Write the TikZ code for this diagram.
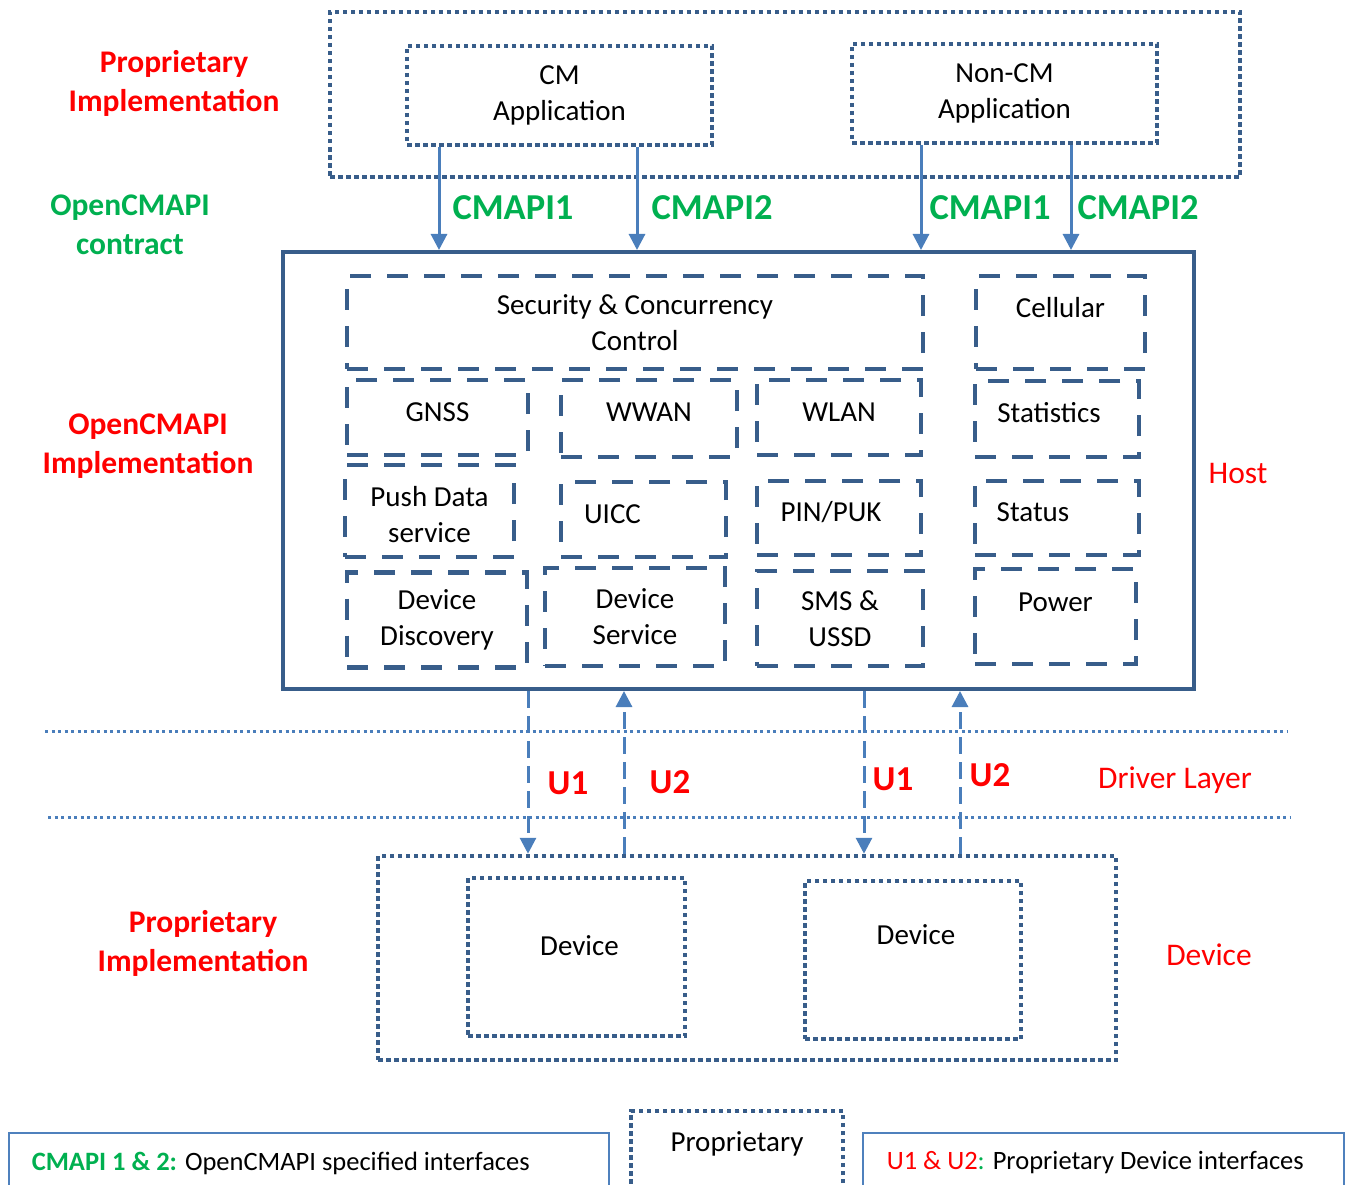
\documentclass[tikz,border=0pt]{standalone}
\usepackage{fontspec}
\setmainfont{Carlito}
\usetikzlibrary{arrows.meta,positioning}
\definecolor{boxblue}{RGB}{56,93,138}
\definecolor{arrowblue}{RGB}{74,126,187}
\definecolor{legblue}{RGB}{79,129,189}
\definecolor{apigreen}{RGB}{0,176,80}
\definecolor{propred}{RGB}{255,0,0}
\newcommand{\compfont}{\fontsize{29}{36}\selectfont}
\newcommand{\sidefont}{\bfseries\fontsize{31.5}{39}\selectfont}
\newcommand{\legfont}{\fontsize{26.5}{32}\selectfont}

\begin{document}
\begin{tikzpicture}[x=1pt,y=-1pt,
  dotbox/.style={rectangle, draw=boxblue, line width=4.5pt, dash pattern=on 4.5pt off 3.5pt, inner sep=0pt, font=\compfont, align=center},
  dashbox/.style={rectangle, draw=boxblue, line width=4.5pt, dash pattern=on 21pt off 16pt, inner sep=0pt, font=\compfont, align=center},
  boxlabel/.style={font=\compfont, align=center},
  apiarrow/.style={draw=arrowblue, line width=3pt, -{Triangle[width=16pt,length=16pt]}},
  uarrow/.style={draw=arrowblue, line width=3pt, dash pattern=on 17pt off 8pt, -{Triangle[width=16pt,length=16pt]}},
  apilabel/.style={text=apigreen, font=\bfseries\fontsize{36.5}{40}\selectfont},
  ulabel/.style={text=propred, font=\bfseries\fontsize{35}{40}\selectfont},
  sidelabel/.style={font=\sidefont, align=center},
  layerlabel/.style={text=propred, font=\fontsize{31.5}{38}\selectfont}]
\useasboundingbox (0,0) rectangle (1347,1185);

%Applications
\node[dotbox, minimum width=910pt, minimum height=165pt] (apps) at (785,94.5) {};
\node[dotbox, minimum width=305pt, minimum height=99pt] (cmapp) at (559.5,95.5) {CM\\Application};
\node[dotbox, minimum width=305pt, minimum height=99pt] (noncm) at (1004.5,93.5) {Non-CM\\Application};

%Host
\node[rectangle, draw=boxblue, line width=4pt, minimum width=911pt, minimum height=437pt] (host) at (738.5,470.5) {};
\node[dashbox, minimum width=576pt, minimum height=93pt] (sec) at (635,322.5) {Security \& Concurrency\\Control};
\node[dashbox, minimum width=169pt, minimum height=93pt, label={[boxlabel, yshift=15pt]center:Cellular}] (cell) at (1060.5,322.5) {};
\node[dashbox, minimum width=181pt, minimum height=75pt, label={[boxlabel, yshift=5pt]center:GNSS}] (gnss) at (437.5,417.5) {};
\node[dashbox, minimum width=176pt, minimum height=77pt, label={[boxlabel, yshift=6pt]center:WWAN}] (wwan) at (649,418.5) {};
\node[dashbox, minimum width=164pt, minimum height=75pt, label={[boxlabel, yshift=5pt]center:WLAN}] (wlan) at (839,417.5) {};
\node[dashbox, minimum width=164pt, minimum height=76pt, label={[boxlabel, xshift=-8pt, yshift=6pt]center:Statistics}] (stat) at (1057,419) {};
\node[dashbox, minimum width=169pt, minimum height=92pt, label={[boxlabel, yshift=-4pt]center:Push Data\\service}] (push) at (429.5,511) {};
\node[dashbox, minimum width=165pt, minimum height=75pt, label={[boxlabel, xshift=-31pt, yshift=5pt]center:UICC}] (uicc) at (643.5,519.5) {};
\node[dashbox, minimum width=164pt, minimum height=74pt, label={[boxlabel, xshift=-8pt, yshift=6pt]center:PIN/PUK}] (pin) at (839,518) {};
\node[dashbox, minimum width=164pt, minimum height=74pt, label={[boxlabel, xshift=-24pt, yshift=6pt]center:Status}] (status) at (1057,518) {};
\node[dashbox, minimum width=180pt, minimum height=95pt] (disc) at (437,620) {Device\\Discovery};
\node[dashbox, minimum width=180pt, minimum height=98pt] (serv) at (635,617) {Device\\Service};
\node[dashbox, minimum width=166pt, minimum height=95pt] (sms) at (840,618.5) {SMS \&\\USSD};
\node[dashbox, minimum width=161pt, minimum height=95pt, label={[boxlabel, yshift=14pt]center:Power}] (power) at (1055.5,616.5) {};

%Devices
\node[dotbox, minimum width=738pt, minimum height=204pt] (devs) at (747,958) {};
\node[dotbox, minimum width=217pt, minimum height=158pt, label={[boxlabel, xshift=3pt, yshift=11pt]center:Device}] (dev1) at (576.5,957) {};
\node[dotbox, minimum width=216pt, minimum height=158pt, label={[boxlabel, xshift=3pt, yshift=25pt]center:Device}] (dev2) at (913,960) {};

%Driver layer
\draw[arrowblue, line width=3pt, dash pattern=on 3pt off 3.5pt] (45,731) -- (1288,731);
\draw[arrowblue, line width=3pt, dash pattern=on 3pt off 3.5pt] (48,817) -- (1290,817);

%Interfaces
\draw[apiarrow] (439,0 |- cmapp.south) -- (439,0 |- host.north);
\draw[apiarrow] (637,0 |- cmapp.south) -- (637,0 |- host.north);
\draw[apiarrow] (921,0 |- noncm.south) -- (921,0 |- host.north);
\draw[apiarrow] (1071,0 |- noncm.south) -- (1071,0 |- host.north);
\draw[uarrow] (528,0 |- host.south) -- (528,0 |- devs.north);
\draw[uarrow] (624,0 |- devs.north) -- (624,0 |- host.south);
\draw[uarrow] (864,0 |- host.south) -- (864,0 |- devs.north);
\draw[uarrow] (960,0 |- devs.north) -- (960,0 |- host.south);

\node[apilabel] (api1a) at (513,208) {CMAPI1};
\node[apilabel] (api2a) at (712,208) {CMAPI2};
\node[apilabel] (api1b) at (990,208) {CMAPI1};
\node[apilabel] (api2b) at (1138,208) {CMAPI2};
\node[ulabel] (u1a) at (568,783) {U1};
\node[ulabel] (u2a) at (670,782) {U2};
\node[ulabel] (u1b) at (893,779) {U1};
\node[ulabel] (u2b) at (990,775) {U2};

%Side labels
\node[sidelabel, text=propred] (propapp) at (174,83.5) {Proprietary\\Implementation};
\node[sidelabel, text=apigreen] (contract) at (130,224.5) {OpenCMAPI\\contract};
\node[sidelabel, text=propred] (openimpl) at (148,446.5) {OpenCMAPI\\Implementation};
\node[sidelabel, text=propred] (propdev) at (203,943) {Proprietary\\Implementation};
\node[layerlabel] (hostlab) at (1238,474) {Host};
\node[layerlabel] (driverlab) at (1175,780) {Driver Layer};
\node[layerlabel] (devlab) at (1209,955) {Device};

%Legend
\node[rectangle, draw=legblue, line width=1.5pt, minimum width=600pt, minimum height=62pt,
  label={[font=\legfont, anchor=west, xshift=20pt, yshift=1pt]west:{\textcolor{apigreen}{\bfseries CMAPI 1 \& 2:} OpenCMAPI specified interfaces}}] (leg1) at (309,1164) {};
\node[dotbox, minimum width=212pt, minimum height=84pt, label={[boxlabel, yshift=9pt]center:Proprietary}] (leg2) at (737,1153) {};
\node[rectangle, draw=legblue, line width=1.5pt, minimum width=481pt, minimum height=62pt,
  label={[font=\legfont, anchor=west, xshift=21pt, yshift=1pt]west:{\textcolor{propred}{U1 \& U2}\textcolor{apigreen}{:} Proprietary Device interfaces}}] (leg3) at (1103.5,1164) {};
\end{tikzpicture}
\end{document}
